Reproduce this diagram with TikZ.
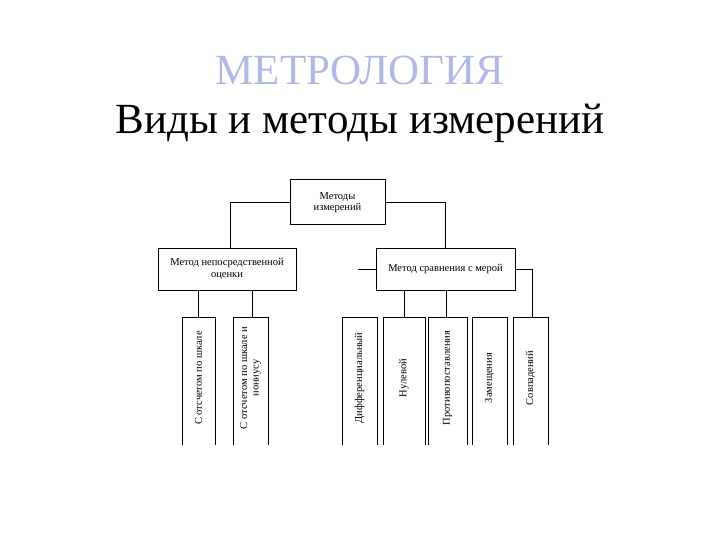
\documentclass[tikz,border=0pt]{standalone}
\usepackage{fontspec}
\setmainfont{Liberation Serif}
\begin{document}
\begin{tikzpicture}[x=1pt,y=-1pt,
 box/.style={draw,line width=1pt,inner sep=0pt,align=center,font=\fontsize{10.5}{11.5}\selectfont},
 ln/.style={line width=1pt},
 vt/.style={rotate=90,font=\fontsize{10.5}{11.5}\selectfont,align=center}]
\useasboundingbox (0,0) rectangle (720,540);
\node (t1) at (360,70) {\fontsize{43}{46}\selectfont\color[HTML]{B0B8E4}МЕТРОЛОГИЯ};
\node (t2) at (360,123) {\fontsize{43}{46}\selectfont Виды и методы измерений};
\node[box,minimum width=95pt,minimum height=45pt] (top) at (337.5,202.5) {Методы\\измерений};
\node[box,minimum width=138pt,minimum height=42pt] (L) at (227,269) {Метод непосредственной\\оценки};
\node[box,minimum width=139pt,minimum height=42pt] (R) at (445.5,269) {Метод сравнения с мерой};
\draw[ln] (top.west) -| (230,248);
\draw[ln] (top.east) -| (445,248);
\coordinate (s1) at (358,269);
\draw[ln] (s1) -- (R.west);
\draw[ln] (R.east) -| (532,317);
\draw[ln] (198,290) -- (198,317);
\draw[ln] (252,290) -- (252,317);
\draw[ln] (404,290) -- (404,317);
\draw[ln] (446,290) -- (446,317);
\foreach \a/\b/\t in {182/215/{С отсчетом по шкале},233/268/{С отсчетом по шкале и\\нониусу},342/377/{Дифференциальный},383/425/{Нулевой},428/467/{Противопоставления},472/507/{Замещения},513/548/{Совпадений}}{
 \draw[ln] (\a,445) -- (\a,317) -- (\b,317) -- (\b,445);
 \node[vt] at ({(\a+\b)/2},378) {\t};
}
\end{tikzpicture}
\end{document}
